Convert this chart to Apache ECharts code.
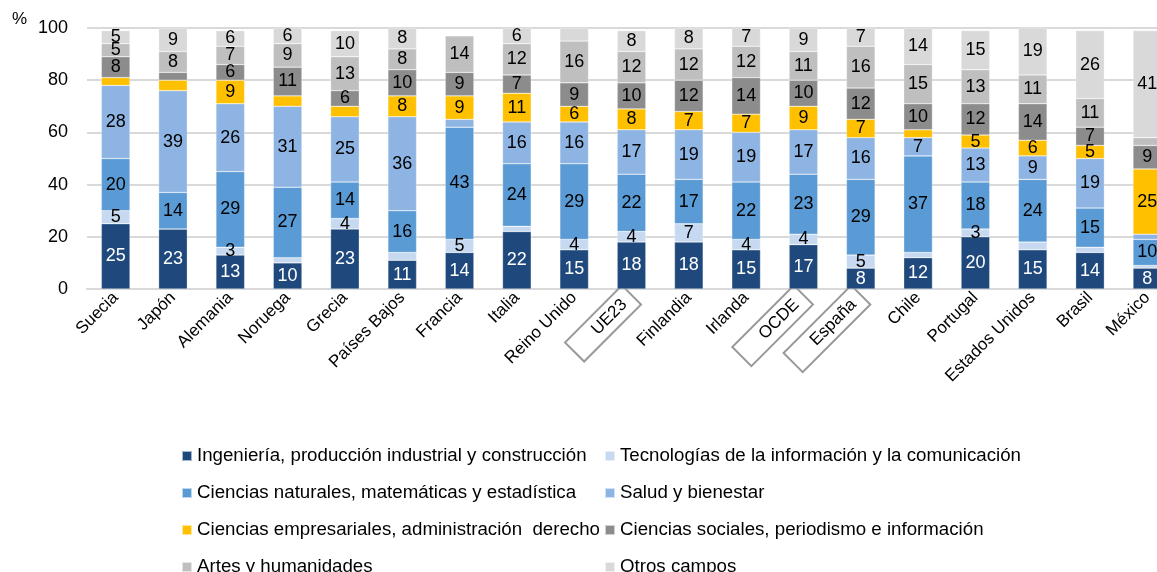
<!DOCTYPE html>
<html>
<head>
<meta charset="utf-8">
<script src="https://cdn.jsdelivr.net/npm/echarts@6/dist/echarts.min.js"></script>
<style>
  html, body { margin: 0; padding: 0; background: #fff; overflow: hidden; }
  #chart { width: 1180px; height: 572px; }
</style>
</head>
<body>
<div id="chart"></div>
<script>
// países
const paises = ["Suecia", "Japón", "Alemania", "Noruega", "Grecia", "Países Bajos", "Francia", "Italia", "Reino Unido", "UE23", "Finlandia", "Irlanda", "OCDE", "España", "Chile", "Portugal", "Estados Unidos", "Brasil", "México"];
const recuadro = ["UE23", "OCDE", "España"];

// porcentajes por campo (de abajo hacia arriba)
const ingenieria = [25, 23, 13, 10, 23, 11, 14, 22, 15, 18, 18, 15, 17, 8, 12, 20, 15, 14, 8];
const tic = [5, 0, 3, 2, 4, 3, 5, 2, 4, 4, 7, 4, 4, 5, 2, 3, 3, 2, 1];
const naturales = [20, 14, 29, 27, 14, 16, 43, 24, 29, 22, 17, 22, 23, 29, 37, 18, 24, 15, 10];
const salud = [28, 39, 26, 31, 25, 36, 3, 16, 16, 17, 19, 19, 17, 16, 7, 13, 9, 19, 2];
const empresariales = [3, 4, 9, 4, 4, 8, 9, 11, 6, 8, 7, 7, 9, 7, 3, 5, 6, 5, 25];
const sociales = [8, 3, 6, 11, 6, 10, 9, 7, 9, 10, 12, 14, 10, 12, 10, 12, 14, 7, 9];
const artes = [5, 8, 7, 9, 13, 8, 14, 12, 16, 12, 12, 12, 11, 16, 15, 13, 11, 11, 3];
const otros = [5, 9, 6, 6, 10, 8, 0, 6, 5, 8, 8, 7, 9, 7, 14, 15, 19, 26, 41];

// segmentos sin etiqueta en el original
const sinEtiquetaTic = ["Japón", "Noruega", "Países Bajos", "Italia", "Chile", "Estados Unidos", "Brasil", "México"];
const sinEtiquetaSalud = ["Francia", "México"];
const sinEtiquetaEmp = ["Suecia", "Japón", "Noruega", "Grecia", "Chile"];
const sinEtiquetaSoc = ["Japón"];
const sinEtiquetaArtes = ["México"];
const sinEtiquetaOtros = ["Francia", "Reino Unido"];

const campos = [
  { name: "Ingeniería, producción industrial y construcción", data: ingenieria, color: "#1f497d", label: "#fff", ocultar: [] },
  { name: "Tecnologías de la información y la comunicación", data: tic, color: "#c6d9f1", label: "#000", ocultar: sinEtiquetaTic },
  { name: "Ciencias naturales, matemáticas y estadística", data: naturales, color: "#5b9bd5", label: "#000", ocultar: [] },
  { name: "Salud y bienestar", data: salud, color: "#8eb4e3", label: "#000", ocultar: sinEtiquetaSalud },
  { name: "Ciencias empresariales, administración  derecho", data: empresariales, color: "#ffc000", label: "#000", ocultar: sinEtiquetaEmp },
  { name: "Ciencias sociales, periodismo e información", data: sociales, color: "#8c8c8c", label: "#000", ocultar: sinEtiquetaSoc },
  { name: "Artes y humanidades", data: artes, color: "#bfbfbf", label: "#000", ocultar: sinEtiquetaArtes },
  { name: "Otros campos", data: otros, color: "#d9d9d9", label: "#000", ocultar: sinEtiquetaOtros },
];

const fuente = "Liberation Sans, Arial, sans-serif";
const chart = echarts.init(document.getElementById("chart"));

const leyenda = (idx, left) => ({
  orient: "vertical",
  left: left,
  top: 441,
  height: 200,
  itemWidth: 10,
  itemHeight: 10,
  itemGap: 17,
  icon: "rect",
  data: idx.map((i) => campos[i].name),
  textStyle: { fontFamily: fuente, fontSize: 18.7, color: "#000", lineHeight: 20 },
});

chart.setOption({
  animation: false,
  grid: { left: 87, top: 28, width: 1089, height: 261, containLabel: false },
  graphic: [
    { type: "text", left: 12, top: 11, style: { text: "%", fontFamily: fuente, fontSize: 17, fill: "#000" } },
  ],
  legend: [leyenda([0, 2, 4, 6], 176), leyenda([1, 3, 5, 7], 599)],
  xAxis: {
    type: "category",
    data: paises,
    axisLine: { show: true, lineStyle: { color: "#d9d9d9", width: 2 } },
    axisTick: { show: false },
    axisLabel: {
      rotate: 45,
      margin: 6,
      interval: 0,
      fontFamily: fuente,
      fontSize: 17,
      color: "#000",
      formatter: (v) => (recuadro.includes(v) ? "{b|" + v + "}" : v),
      rich: {
        b: {
          fontFamily: fuente,
          fontSize: 17,
          color: "#000",
          borderColor: "#999",
          borderWidth: 2,
          padding: [5, 10, 5, 28],
        },
      },
    },
  },
  yAxis: {
    type: "value",
    min: 0,
    max: 100,
    interval: 20,
    axisLine: { show: false },
    axisTick: { show: false },
    axisLabel: { fontFamily: fuente, fontSize: 18, color: "#000", margin: 19 },
    splitLine: { lineStyle: { color: "#d9d9d9", width: 2 } },
  },
  series: campos.map((c) => ({
    name: c.name,
    type: "bar",
    stack: "total",
    barWidth: "50%",
    itemStyle: { color: c.color, borderColor: "rgba(255,255,255,0.6)", borderWidth: 0.5 },
    label: {
      show: true,
      position: "inside",
      fontFamily: fuente,
      fontSize: 18,
      color: c.label,
      formatter: (p) => (c.ocultar.includes(p.name) || p.value === 0 ? "" : String(p.value)),
    },
    data: c.data,
  })),
});
</script>
</body>
</html>
